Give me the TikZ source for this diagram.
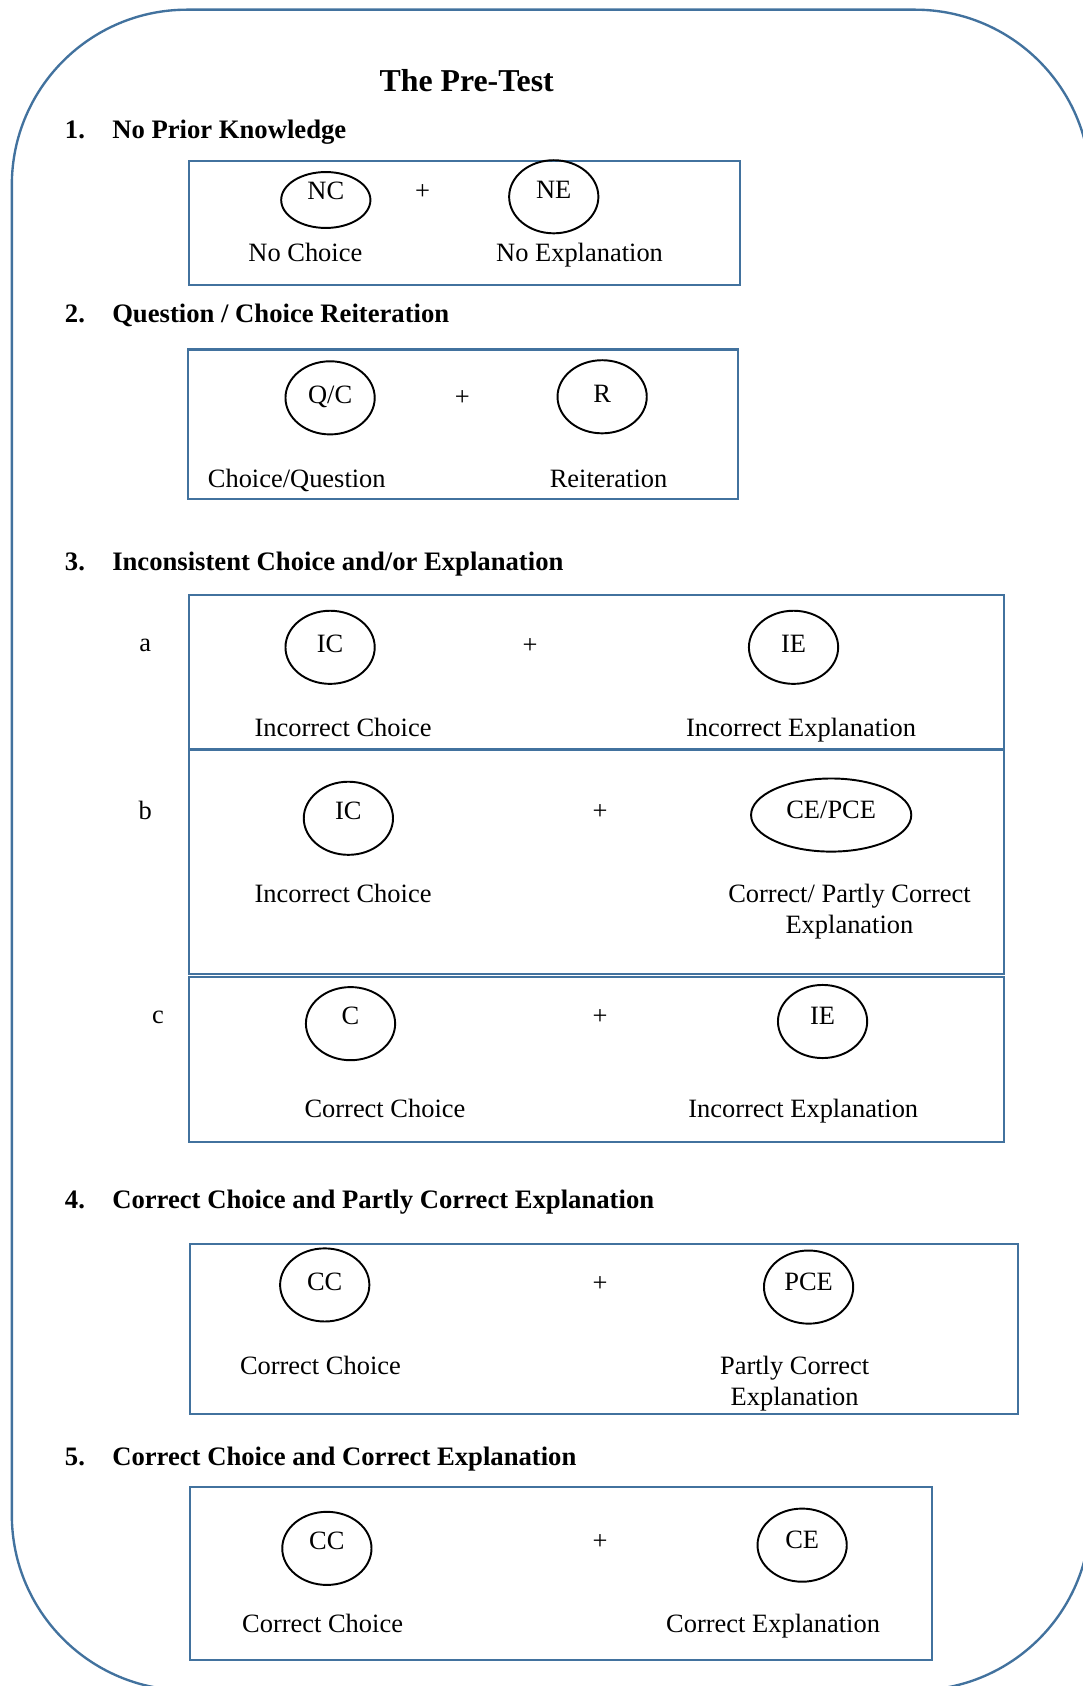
\documentclass[tikz,border=0pt]{standalone}
\usepackage{fontspec}
\setmainfont{Liberation Serif}
\usepackage{tikz}
\usetikzlibrary{shapes.geometric, positioning}
\definecolor{frameblue}{RGB}{66,114,158}

\begin{document}
\begin{tikzpicture}[x=0.5pt, y=-0.5pt, font=\fontsize{12.3}{14.5}\selectfont,
  panel/.style={draw=frameblue, line width=1pt},
  code/.style={draw, ellipse, line width=0.9pt, inner sep=0pt, minimum width=41.5pt, minimum height=34pt, text depth=3pt},
  term/.style={anchor=base, align=center},
  heading/.style={anchor=base west, inner xsep=0pt, font=\fontsize{12.4}{14.5}\selectfont\bfseries}]
  \useasboundingbox (0,0) rectangle (1007,1568);
  \clip (0,0) rectangle (1007,1568);

  % Outer frame
  \draw[frameblue, line width=1.1pt, rounded corners=81.5pt] (11,9) rectangle (1014,1572);
  \node (title) [anchor=base, font=\fontsize{14.8}{17}\selectfont\bfseries] at (434,85) {The Pre-Test};

  % 1. No prior knowledge
  \node (h1) [heading] at (60,129) {\makebox[22pt][l]{1.}No Prior Knowledge};
  \draw[panel] (176,150) rectangle (688,265);
  \node (nc) [code, minimum height=26pt, text depth=9pt] at (303,186) {NC};
  \node (p1) at (393,179) {+};
  \node (ne) [code, text depth=6pt] at (515,183) {NE};
  \node (ncl) [term] at (284,243) {No Choice};
  \node (nel) [term] at (539,243) {No Explanation};

  % 2. Question / choice reiteration
  \node (h2) [heading] at (60,300) {\makebox[22pt][l]{2.}Question / Choice Reiteration};
  \draw[panel] (175,325) rectangle (686,464);
  \node (qc) [code] at (307,370) {Q/C};
  \node (p2) at (430,370) {+};
  \node (r) [code] at (560,369) {R};
  \node (qcl) [term] at (276,453) {Choice/Question};
  \node (rl) [term] at (566,453) {Reiteration};

  % 3. Inconsistent choice and/or explanation
  \node (h3) [heading] at (60,531) {\makebox[22pt][l]{3.}Inconsistent Choice and/or Explanation};
  \draw[panel] (176,553) rectangle (934,697);
  \draw[panel] (176,697) rectangle (934,906);
  \draw[panel] (176,909) rectangle (934,1062);
  \node (suba) at (135,600) {a};
  \node (subb) at (135,754) {b};
  \node (subc) at (147,946) {c};

  \node (ica) [code] at (307,602) {IC};
  \node (pa) at (493,601) {+};
  \node (iea) [code] at (738,602) {IE};
  \node (ical) [term] at (319,685) {Incorrect Choice};
  \node (ieal) [term] at (745,685) {Incorrect Explanation};

  \node (icb) [code, text depth=7pt] at (324,761) {IC};
  \node (pb) at (558,755) {+};
  \node (cepce) [code, minimum width=74.5pt, text depth=5pt] at (773,758) {CE/PCE};
  \node (icbl) [term] at (319,839) {Incorrect Choice};
  \node (cepcel) [term] at (790,868) {Correct/ Partly Correct\\Explanation};

  \node (cc) [code, text depth=7pt] at (326,952) {C};
  \node (pc) at (558,946) {+};
  \node (iec) [code, text depth=5pt] at (765,950) {IE};
  \node (ccl) [term] at (358,1039) {Correct Choice};
  \node (iecl) [term] at (747,1039) {Incorrect Explanation};

  % 4. Correct choice and partly correct explanation
  \node (h4) [heading] at (60,1124) {\makebox[22pt][l]{4.}Correct Choice and Partly Correct Explanation};
  \draw[panel] (177,1157) rectangle (947,1315);
  \node (cc4) [code] at (302,1195) {CC};
  \node (p4) at (558,1194) {+};
  \node (pce) [code, text depth=5pt] at (752,1197) {PCE};
  \node (cc4l) [term] at (298,1278) {Correct Choice};
  \node (pcel) [term] at (739,1307) {Partly Correct\\Explanation};

  % 5. Correct choice and correct explanation
  \node (h5) [heading] at (60,1363) {\makebox[22pt][l]{5.}Correct Choice and Correct Explanation};
  \draw[panel] (177,1383) rectangle (867,1544);
  \node (cc5) [code, text depth=7pt] at (304,1440) {CC};
  \node (p5) at (558,1434) {+};
  \node (ce5) [code, text depth=5pt] at (746,1437) {CE};
  \node (cc5l) [term] at (300,1518) {Correct Choice};
  \node (ce5l) [term] at (719,1518) {Correct Explanation};

\end{tikzpicture}
\end{document}
